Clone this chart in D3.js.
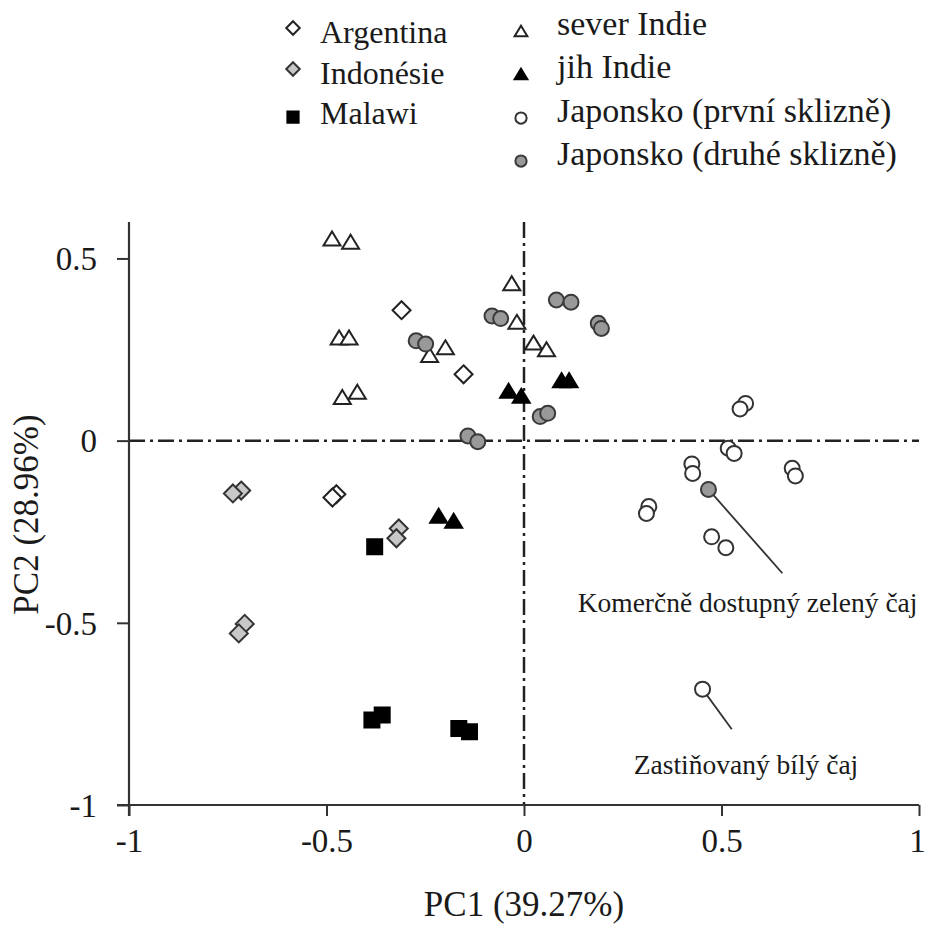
<!DOCTYPE html>
<html>
<head>
<meta charset="utf-8">
<script src="https://cdn.jsdelivr.net/npm/d3@7"></script>
<style>
  html, body { margin: 0; padding: 0; background: #fff; }
  svg { display: block; }
  text { font-family: "Liberation Serif", "Times New Roman", serif; fill: #1a1a1a; }
</style>
</head>
<body>
<div id="chart"></div>
<script>
// PCA scores [PC1, PC2] per group
const argentina = [[-0.310, 0.358], [-0.153, 0.182], [-0.475, -0.147], [-0.485, -0.156]];
const indonesie = [[-0.716, -0.137], [-0.737, -0.145], [-0.317, -0.241], [-0.323, -0.268],
  [-0.707, -0.503], [-0.722, -0.529]];
const malawi = [[-0.378, -0.291], [-0.385, -0.767], [-0.359, -0.753], [-0.165, -0.790], [-0.138, -0.799]];
const severIndie = [[-0.486, 0.555], [-0.439, 0.546], [-0.468, 0.283], [-0.443, 0.283],
  [-0.460, 0.120], [-0.422, 0.134], [-0.239, 0.235], [-0.199, 0.256],
  [-0.031, 0.432], [-0.018, 0.326], [0.024, 0.269], [0.057, 0.251]];
const jihIndie = [[-0.039, 0.137], [-0.007, 0.123], [0.095, 0.166], [0.114, 0.166],
  [-0.216, -0.206], [-0.178, -0.220]];
const japonskoPrvni = [[0.561, 0.102], [0.547, 0.087], [0.517, -0.021], [0.532, -0.035],
  [0.425, -0.064], [0.427, -0.090], [0.679, -0.076], [0.687, -0.097],
  [0.316, -0.181], [0.310, -0.200], [0.475, -0.264], [0.511, -0.294], [0.452, -0.682]];
const japonskoDruhe = [[-0.273, 0.274], [-0.249, 0.265], [-0.081, 0.342], [-0.059, 0.335],
  [0.082, 0.386], [0.119, 0.380], [0.188, 0.322], [0.196, 0.308],
  [0.041, 0.066], [0.060, 0.075], [-0.142, 0.013], [-0.117, -0.003], [0.467, -0.134]];

const xTicks = [-1, -0.5, 0, 0.5, 1];
const yTicks = [0.5, 0, -0.5, -1];
const xTitle = 'PC1 (39.27%)';
const yTitle = 'PC2 (28.96%)';

// labelled samples: point, end of leader line, label position
const annotations = [
  { text: 'Komerčně dostupný zelený čaj', point: [0.467, -0.134], end: [0.654, -0.364], at: [0.566, -0.471] },
  { text: 'Zastiňovaný bílý čaj', point: [0.452, -0.682], end: [0.526, -0.792], at: [0.562, -0.915] }
];

const width = 927, height = 926;

const svg = d3.select('#chart')
  .append('svg')
  .attr('width', width)
  .attr('height', height);

const x = d3.scaleLinear().domain([-1, 1]).range([129, 919]);
const y = d3.scaleLinear().domain([-1, 0.6]).range([805, 222]);

// marker shapes
const shapes = {
  diamond: s => `M0,${-9 * s}L${9 * s},0L0,${9 * s}L${-9 * s},0Z`,
  triangle: s => `M0,${-7 * s}L${8.5 * s},${7 * s}L${-8.5 * s},${7 * s}Z`,
  square: s => `M${-7.5 * s},${-7.5 * s}h${15 * s}v${15 * s}h${-15 * s}Z`,
  circle: s => d3.arc()({ innerRadius: 0, outerRadius: 7.5 * s, startAngle: 0, endAngle: 2 * Math.PI })
};

const groups = [
  { name: 'Argentina', data: argentina, shape: 'diamond', fill: '#fff', stroke: '#222' },
  { name: 'Indonésie', data: indonesie, shape: 'diamond', fill: '#c8c8c8', stroke: '#333' },
  { name: 'Malawi', data: malawi, shape: 'square', fill: '#000', stroke: '#000' },
  { name: 'sever Indie', data: severIndie, shape: 'triangle', fill: '#fff', stroke: '#222' },
  { name: 'jih Indie', data: jihIndie, shape: 'triangle', fill: '#000', stroke: '#000' },
  { name: 'Japonsko (první sklizně)', data: japonskoPrvni, shape: 'circle', fill: '#fff', stroke: '#333' },
  { name: 'Japonsko (druhé sklizně)', data: japonskoDruhe, shape: 'circle', fill: '#999', stroke: '#3a3a3a' }
];

// reference lines at 0 (dash-dot)
const dashDot = '16,5,3,5';
svg.append('line')
  .attr('x1', x(-1)).attr('x2', x(1))
  .attr('y1', y(0)).attr('y2', y(0))
  .attr('stroke', '#222').attr('stroke-width', 2.5)
  .attr('stroke-dasharray', dashDot);
svg.append('line')
  .attr('x1', x(0)).attr('x2', x(0))
  .attr('y1', y(0.6)).attr('y2', y(-1))
  .attr('stroke', '#222').attr('stroke-width', 2.5)
  .attr('stroke-dasharray', dashDot);

// axes
const xAxis = svg.append('g')
  .attr('transform', `translate(0,${y(-1)})`)
  .call(d3.axisBottom(x).tickValues(xTicks).tickSize(11).tickFormat(d => String(d)));
const yAxis = svg.append('g')
  .attr('transform', `translate(${x(-1)},0)`)
  .call(d3.axisLeft(y).tickValues(yTicks).tickSize(12).tickFormat(d => String(d)));

[xAxis, yAxis].forEach(g => {
  g.attr('font-family', null);
  g.select('.domain').remove();
  g.selectAll('.tick line').attr('stroke', '#333').attr('stroke-width', 2);
  g.selectAll('.tick text')
    .style('font-family', '"Liberation Serif", serif')
    .style('font-size', '33px')
    .attr('fill', '#1a1a1a');
});
xAxis.selectAll('.tick text')
  .attr('y', 24).attr('dy', '0.71em')
  .attr('dx', d => d === 1 ? -2 : 0);
yAxis.selectAll('.tick text').attr('x', -32).attr('dy', '0.34em');

svg.append('line')
  .attr('x1', x(-1) - 12).attr('x2', x(1))
  .attr('y1', y(-1)).attr('y2', y(-1))
  .attr('stroke', '#333').attr('stroke-width', 2.2);
svg.append('line')
  .attr('x1', x(-1)).attr('x2', x(-1))
  .attr('y1', y(0.6)).attr('y2', y(-1) + 11)
  .attr('stroke', '#333').attr('stroke-width', 2.2);

svg.append('text')
  .attr('x', x(0)).attr('y', 916)
  .attr('text-anchor', 'middle')
  .style('font-size', '35px')
  .text(xTitle);
svg.append('text')
  .attr('transform', `translate(38,${(y(0.6) + y(-1)) / 2 + 1}) rotate(-90)`)
  .attr('text-anchor', 'middle')
  .style('font-size', '35px')
  .text(yTitle);

// leader lines for labelled samples
const ann = svg.append('g');
ann.selectAll('line')
  .data(annotations)
  .enter()
  .append('line')
  .attr('x1', d => x(d.point[0])).attr('y1', d => y(d.point[1]))
  .attr('x2', d => x(d.end[0])).attr('y2', d => y(d.end[1]))
  .attr('stroke', '#333').attr('stroke-width', 1.8);
ann.selectAll('text')
  .data(annotations)
  .enter()
  .append('text')
  .attr('x', d => x(d.at[0])).attr('y', d => y(d.at[1]))
  .attr('text-anchor', 'middle')
  .style('font-size', '27.5px')
  .text(d => d.text);

// points
groups.forEach(grp => {
  svg.append('g')
    .selectAll('path')
    .data(grp.data)
    .enter()
    .append('path')
    .attr('d', shapes[grp.shape](1))
    .attr('transform', d => `translate(${x(d[0])},${y(d[1])})`)
    .attr('fill', grp.fill)
    .attr('stroke', grp.stroke)
    .attr('stroke-width', 2)
    .attr('stroke-linejoin', 'miter');
});

// legend, two columns
const legendPos = [
  { mx: 293, my: 28, ty: 43, fs: 32 },
  { mx: 293, my: 69, ty: 84, fs: 32 },
  { mx: 293, my: 117, ty: 124, fs: 32 },
  { mx: 521, my: 31, ty: 35, fs: 34 },
  { mx: 521, my: 74, ty: 78, fs: 34 },
  { mx: 521, my: 118, ty: 122, fs: 34 },
  { mx: 521, my: 161, ty: 165, fs: 34 }
];

const legend = svg.append('g')
  .selectAll('g')
  .data(groups)
  .enter()
  .append('g');

legend.append('path')
  .attr('d', d => shapes[d.shape](0.75))
  .attr('transform', (d, i) => `translate(${legendPos[i].mx},${legendPos[i].my})`)
  .attr('fill', d => d.fill)
  .attr('stroke', d => d.stroke)
  .attr('stroke-width', 2);

legend.append('text')
  .attr('x', (d, i) => legendPos[i].mx + (i < 3 ? 27 : 36))
  .attr('y', (d, i) => legendPos[i].ty)
  .style('font-size', (d, i) => legendPos[i].fs + 'px')
  .text(d => d.name);
</script>
</body>
</html>
